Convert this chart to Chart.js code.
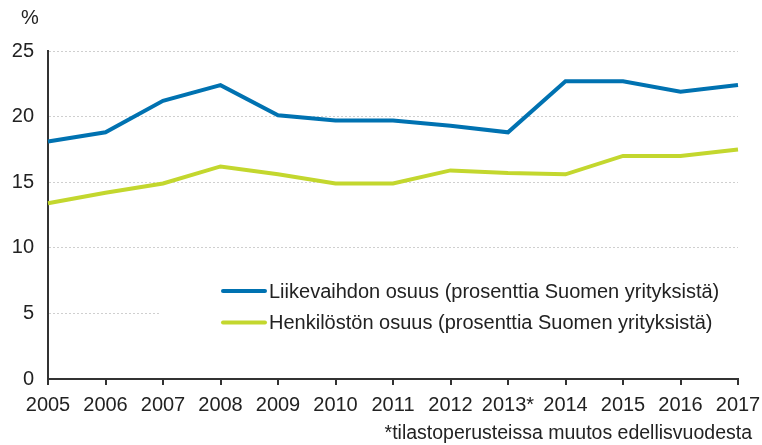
<!DOCTYPE html>
<html>
<head>
<meta charset="utf-8">
<script src="https://cdn.jsdelivr.net/npm/chart.js@4/dist/chart.umd.min.js"></script>
<style>
  html, body { margin: 0; padding: 0; background: #fff; }
  #wrap { width: 762px; height: 445px; position: relative; }
</style>
</head>
<body>
<div id="wrap"><canvas id="chart" width="762" height="445"></canvas></div>
<script>
const years = ['2005', '2006', '2007', '2008', '2009', '2010', '2011', '2012', '2013*', '2014', '2015', '2016', '2017'];
const liikevaihto = [18.1, 18.8, 21.2, 22.4, 20.1, 19.7, 19.7, 19.3, 18.8, 22.7, 22.7, 21.9, 22.4];
const henkilosto = [13.4, 14.2, 14.9, 16.2, 15.6, 14.9, 14.9, 15.9, 15.7, 15.6, 17.0, 17.0, 17.5];
const seriesNames = [
  'Liikevaihdon osuus (prosenttia Suomen yrityksistä)',
  'Henkilöstön osuus (prosenttia Suomen yrityksistä)'
];
const unitLabel = '%';
const footnote = '*tilastoperusteissa muutos edellisvuodesta';

const FONT = '"Liberation Sans", Arial, sans-serif';
const TEXT = '#222';

// legend box inside the plot + % label + footnote
const extras = {
  id: 'extras',
  afterDatasetsDraw(chart) {
    const ctx = chart.ctx;
    const area = chart.chartArea;
    ctx.save();
    ctx.fillStyle = '#fff';
    ctx.fillRect(160, 272, area.right - 160, 70);

    chart.data.datasets.forEach((ds, i) => {
      const y = 291 + i * 31.5;
      ctx.strokeStyle = ds.borderColor;
      ctx.lineWidth = 4;
      ctx.lineCap = 'round';
      ctx.beginPath();
      ctx.moveTo(223, y);
      ctx.lineTo(265, y);
      ctx.stroke();
      ctx.fillStyle = TEXT;
      ctx.font = '20px ' + FONT;
      ctx.textAlign = 'left';
      ctx.textBaseline = 'middle';
      ctx.fillText(ds.label, 269, y + 1);
    });

    ctx.fillStyle = TEXT;
    ctx.font = '20px ' + FONT;
    ctx.textAlign = 'left';
    ctx.textBaseline = 'middle';
    ctx.fillText(unitLabel, 21, 18);

    ctx.font = '19.5px ' + FONT;
    ctx.textAlign = 'right';
    ctx.fillText(footnote, 752, 434);
    ctx.restore();
  }
};

new Chart(document.getElementById('chart'), {
  type: 'line',
  data: {
    labels: years,
    datasets: [
      {
        label: seriesNames[0],
        data: liikevaihto,
        borderColor: '#0072b1',
        borderWidth: 4,
        pointRadius: 0,
        tension: 0
      },
      {
        label: seriesNames[1],
        data: henkilosto,
        borderColor: '#c3d72e',
        borderWidth: 4,
        pointRadius: 0,
        tension: 0
      }
    ]
  },
  options: {
    responsive: false,
    animation: false,
    layout: { padding: { top: 51, right: 24, left: 0, bottom: 0 } },
    plugins: {
      legend: { display: false },
      tooltip: { enabled: false }
    },
    scales: {
      x: {
        offset: false,
        grid: {
          drawOnChartArea: false,
          drawTicks: true,
          tickLength: 6,
          color: '#333',
          lineWidth: 2
        },
        border: { color: '#333', width: 2 },
        ticks: {
          color: TEXT,
          font: { family: FONT, size: 20 },
          padding: 8,
          maxRotation: 0,
          autoSkip: false
        },
        afterFit(scale) {
          scale.height = 66;
          scale.paddingLeft = 0;
          scale.paddingRight = 0;
        }
      },
      y: {
        min: 0,
        max: 25,
        ticks: {
          stepSize: 5,
          color: TEXT,
          font: { family: FONT, size: 20 },
          padding: 14
        },
        grid: {
          color: '#cfcfcf',
          lineWidth: 1,
          drawTicks: false
        },
        border: { color: '#333', width: 2, dash: [2, 2] },
        afterFit(scale) { scale.width = 48; }
      }
    }
  },
  plugins: [extras]
});
</script>
</body>
</html>
